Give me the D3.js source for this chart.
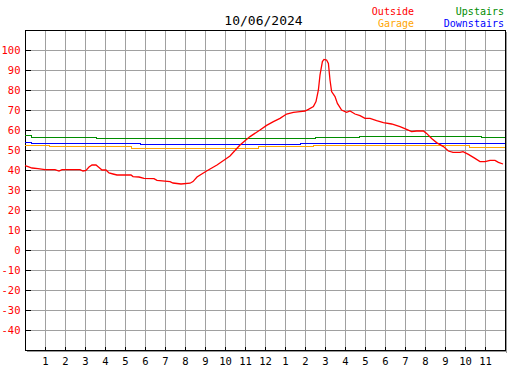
<!DOCTYPE html>
<html><head><meta charset="utf-8">
<script src="https://cdn.jsdelivr.net/npm/d3@7"></script>
<style>body{margin:0;background:#fff}svg{display:block}</style>
</head><body>
<script>
const title = "10/06/2024";
const hourLabels = ["1","2","3","4","5","6","7","8","9","10","11","12","1","2","3","4","5","6","7","8","9","10","11"];
const yTicks = [-40,-30,-20,-10,0,10,20,30,40,50,60,70,80,90,100];

const outsideH = [0,0.15,0.35,0.65,1.0,1.5,1.7,1.85,2.75,2.9,3.05,3.2,3.35,3.55,3.7,3.85,4.05,4.2,4.4,4.6,5.3,5.4,5.7,5.95,6.45,6.6,7.25,7.4,7.8,8.25,8.4,8.6,9.08,9.6,10.25,10.75,11.25,11.75,12.08,12.42,12.75,13.08,13.42,13.75,14.0,14.17,14.42,14.55,14.67,14.75,14.87,14.95,15.08,15.17,15.25,15.33,15.5,15.62,15.83,16.08,16.25,16.5,16.75,17.0,17.25,17.58,17.92,18.33,18.75,19.08,19.33,19.58,19.92,20.08,20.33,20.58,20.92,21.17,21.4,21.75,21.9,22.17,22.5,22.75,23.0,23.25,23.5,23.67,23.9];
const outsideV = [42.2,41.7,41.0,40.7,40.2,40.2,39.5,40.2,40.2,39.5,39.8,41.5,42.5,42.5,41.3,40.0,40.0,38.5,38.0,37.5,37.5,36.7,36.5,35.8,35.7,34.8,34.2,33.5,33.0,33.4,34.2,36.5,39.5,42.5,47.0,52.5,56.7,60.0,62.3,64.2,65.8,68.0,68.8,69.2,69.5,70.3,71.7,74.2,80.0,87.5,94.2,95.3,95.0,93.3,85.0,79.2,76.7,73.3,70.0,68.8,69.5,68.0,67.2,65.8,65.8,64.7,63.7,63.0,61.7,60.3,59.2,59.5,59.5,58.3,55.8,53.7,51.7,49.5,48.8,48.8,49.2,47.8,45.8,44.2,44.2,44.8,44.8,43.8,43.0];

const upstairsH = [0,0.3,3.58,6.0,14.53,16.7,22.83,24];
const upstairsV = [57.3,56.7,56.2,55.8,56.3,56.8,56.3,56.3];

const downstairsH = [0,0.3,5.78,13.78,24];
const downstairsV = [53.8,53.3,52.8,53.3,53.3];

const garageH = [0,1.22,5.32,11.67,14.05,14.4,22.2,24];
const garageV = [52.5,51.8,51.2,52.0,51.8,52.4,51.7,51.7];

const W = 527, H = 370;
const svg = d3.select("body").append("svg").attr("width", W).attr("height", H);
const x = d3.scaleLinear().domain([0,24]).range([25,505]);
const y = d3.scaleLinear().domain([-50,110]).range([350,30]);
const mono = "DejaVu Sans Mono, monospace";

// shadow
svg.append("line").attr("x1",506.5).attr("x2",506.5).attr("y1",32).attr("y2",353).attr("stroke","#999");
svg.append("line").attr("x1",27).attr("x2",507).attr("y1",351.5).attr("y2",351.5).attr("stroke","#999");

// grid
const g = svg.append("g").attr("shape-rendering","crispEdges");
g.selectAll(".hg").data(yTicks).enter().append("line")
  .attr("x1",x(0)).attr("x2",x(24)).attr("y1",d=>Math.round(y(d))+0.5).attr("y2",d=>Math.round(y(d))+0.5)
  .attr("stroke","#a0a0a0");
g.selectAll(".vg").data(d3.range(1,24)).enter().append("line")
  .attr("y1",y(110)).attr("y2",y(-50)).attr("x1",d=>Math.round(x(d))+0.5).attr("x2",d=>Math.round(x(d))+0.5)
  .attr("stroke","#a0a0a0");

// axes via d3
const yAxis = d3.axisLeft(y).tickValues(yTicks).tickSize(-5).tickFormat(d=>d);
const ya = svg.append("g").attr("transform","translate(25.5,0)").call(yAxis);
ya.select(".domain").remove();
ya.selectAll("line").attr("stroke","#000").attr("shape-rendering","crispEdges");
ya.selectAll("text").attr("x",-5).attr("fill","#f00").attr("font-family",mono).attr("font-size","10.5px");

const xAxis = d3.axisBottom(x).tickValues(d3.range(1,24)).tickSize(-4).tickFormat((d,i)=>hourLabels[i]);
const xa = svg.append("g").attr("transform","translate(0,350.5)").call(xAxis);
xa.select(".domain").remove();
xa.selectAll("line").attr("stroke","#000").attr("shape-rendering","crispEdges");
xa.selectAll("text").attr("y",0).attr("dy","14.5px").attr("fill","#000").attr("font-family",mono).attr("font-size","10.5px");

// frame
svg.append("rect").attr("x",25.5).attr("y",30.5).attr("width",480).attr("height",320)
  .attr("fill","none").attr("stroke","#000").attr("shape-rendering","crispEdges");

function series(hs, vs){ return hs.map((h,i)=>[h, vs[i]]); }
const stepLine = d3.line().x(d=>x(d[0])).y(d=>Math.round(y(d[1]))+0.5).curve(d3.curveStepAfter);
const smoothLine = d3.line().x(d=>x(d[0])).y(d=>y(d[1]));

svg.append("path").datum(series(upstairsH,upstairsV)).attr("d",stepLine).attr("fill","none").attr("stroke","#008c00").attr("stroke-width",1).attr("shape-rendering","crispEdges");
svg.append("path").datum(series(downstairsH,downstairsV)).attr("d",stepLine).attr("fill","none").attr("stroke","#0000ff").attr("stroke-width",1).attr("shape-rendering","crispEdges");
svg.append("path").datum(series(garageH,garageV)).attr("d",stepLine).attr("fill","none").attr("stroke","#ffa500").attr("stroke-width",1).attr("shape-rendering","crispEdges");
svg.append("path").datum(series(outsideH,outsideV)).attr("d",smoothLine).attr("fill","none").attr("stroke","#ff0000").attr("stroke-width",1.3);

// title & legend
svg.append("text").attr("x",263.5).attr("y",25).attr("text-anchor","middle").attr("font-family",mono).attr("font-size","13px").attr("fill","#000").text(title);
const legend = [
  {name:"Outside", color:"#ff0000", x:414, y:15},
  {name:"Garage", color:"#ffa500", x:414, y:27},
  {name:"Upstairs", color:"#008c00", x:504, y:15},
  {name:"Downstairs", color:"#0000ff", x:504, y:27}
];
svg.selectAll(".lg").data(legend).enter().append("text")
  .attr("x",d=>d.x).attr("y",d=>d.y).attr("text-anchor","end")
  .attr("font-family",mono).attr("font-size","10px").attr("fill",d=>d.color).text(d=>d.name);
</script>
</body></html>
